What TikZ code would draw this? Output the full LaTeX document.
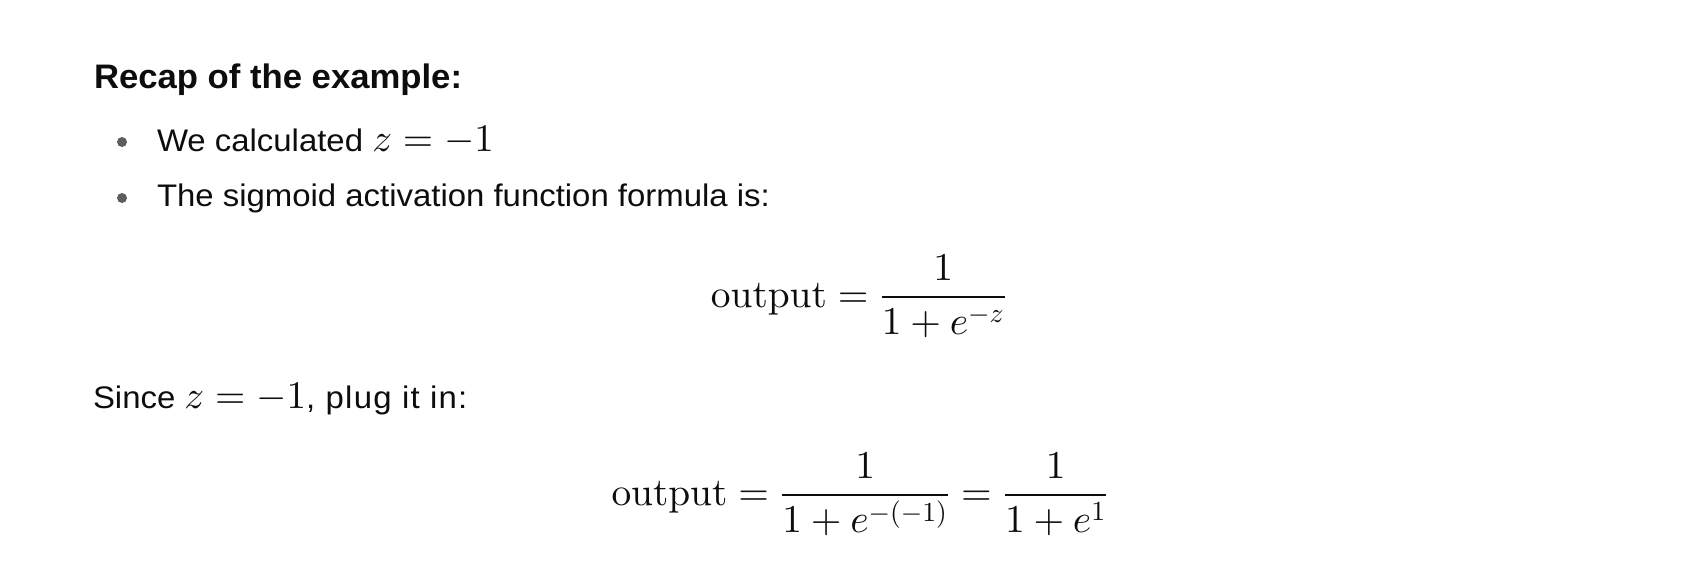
\documentclass[tikz,border=0pt]{standalone}
\usepackage[no-math]{fontspec}
\DeclareFontShape{OT1}{cmr}{m}{n}{<-> cmr10}{}
\DeclareFontShape{OML}{cmm}{m}{it}{<-> cmmi10}{}
\DeclareFontShape{OMS}{cmsy}{m}{n}{<-> cmsy10}{}
\DeclareFontShape{OMX}{cmex}{m}{n}{<-> cmex10}{}
\newfontfamily\sanstext[FakeStretch=1.055]{Liberation Sans}
\newfontfamily\sanswide[FakeStretch=1.055,LetterSpace=4]{Liberation Sans}
\newfontfamily\sanshead[FakeStretch=1.02]{Liberation Sans}
\definecolor{txt}{HTML}{0D0D0D}
\definecolor{bul}{HTML}{5D5D5D}
\newcommand{\mth}[1]{{\fontsize{19.5}{23}\selectfont$#1$}}
\begin{document}
\begin{tikzpicture}[x=0.5pt,y=-0.5pt,
  bodytext/.style={inner sep=0pt, outer sep=0pt, anchor=base west, text=txt,
    font=\sanstext\fontsize{15.6}{19}\selectfont},
  headtext/.style={inner sep=0pt, outer sep=0pt, anchor=base west, text=txt,
    font=\sanshead\bfseries\fontsize{17}{20}\selectfont},
  mathdisp/.style={inner sep=0pt, outer sep=0pt, anchor=base, text=txt,
    font=\fontsize{19.7}{23}\selectfont},
  bulletdot/.style={circle, fill=bul, inner sep=0pt, minimum size=5pt}]
\fill[white] (0,0) rectangle (1684,582);
\useasboundingbox (0,0) rectangle (1684,582);
\node[headtext] (head) at (94,89) {Recap of the example:};
\node[bulletdot] (b1) at (122,142) {};
\node[bodytext] (t1) at (157,152) {We calculated \mth{z=-1}};
\node[bulletdot] (b2) at (122,198) {};
\node[bodytext] (t2) at (157,207) {The sigmoid activation function formula is:};
\node[mathdisp] (f1) at (859,307) {$\displaystyle \mathrm{output} = \frac{1}{1+e^{-z}}$};
\node[bodytext] (since) at (93,408) {Since \mth{z=-1}{\sanswide\fontsize{15.6}{19}\selectfont, plug it in:}};
\node[mathdisp] (f2) at (860,505) {$\displaystyle \mathrm{output} = \frac{1}{1+e^{-(-1)}} = \frac{1}{1+e^{1}}$};
\end{tikzpicture}
\end{document}
